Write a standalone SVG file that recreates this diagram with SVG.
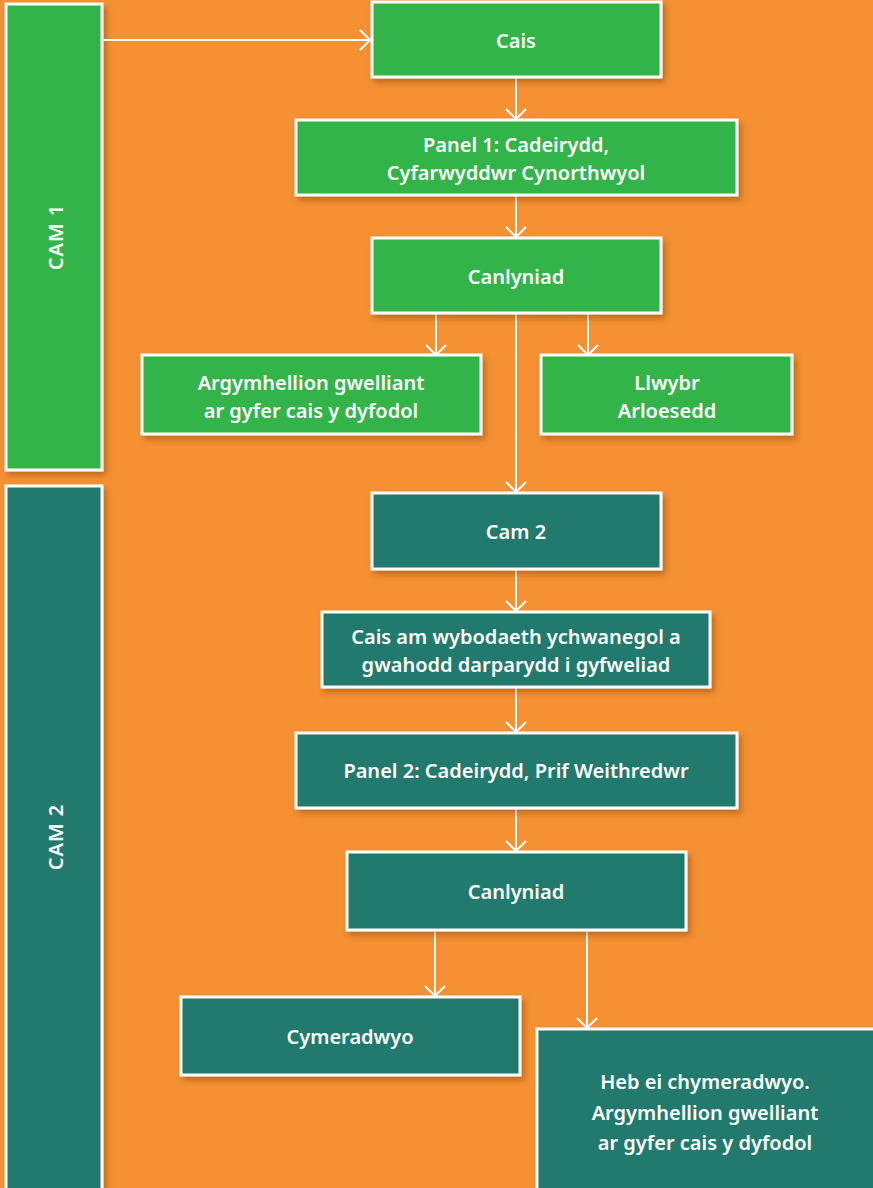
<svg xmlns="http://www.w3.org/2000/svg" width="873" height="1188" viewBox="0 0 873 1188">
<defs>
<filter id="sh" x="-10%" y="-10%" width="130%" height="140%">
<feDropShadow dx="3" dy="4" stdDeviation="3" flood-color="#7a3a00" flood-opacity="0.45"/>
</filter>
<marker id="ah" markerWidth="24" markerHeight="24" refX="12" refY="12" orient="auto" markerUnits="userSpaceOnUse">
<path d="M2,2 L12,12 L2,22" fill="none" stroke="#fff" stroke-width="2"/>
</marker>
</defs>
<style>
.g{fill:#33B44A;stroke:#fff;stroke-width:3;filter:url(#sh)}
.t{fill:#20796D;stroke:#fff;stroke-width:3;filter:url(#sh)}
text{font-family:"Noto Sans","Open Sans",sans-serif;font-weight:600;font-size:20px;fill:#fff;text-anchor:middle}
.c{fill:none;stroke:#fff;stroke-width:2;marker-end:url(#ah)}
</style>
<rect width="873" height="1188" fill="#F59133"/>
<g id="cam1"><rect class="g" x="6" y="4" width="96" height="466"/><text transform="translate(63,237) rotate(-90)" style="letter-spacing:1px">CAM 1</text></g>
<g id="cam2"><rect class="t" x="6" y="486" width="96" height="720"/><text transform="translate(63,837) rotate(-90)" style="letter-spacing:1px">CAM 2</text></g>
<g id="connectors">
<line class="c" x1="102" y1="40" x2="370" y2="40"/>
<line class="c" x1="516" y1="77" x2="516" y2="119"/>
<line class="c" x1="516" y1="195" x2="516" y2="237"/>
<line class="c" x1="436" y1="313" x2="436" y2="355"/>
<line class="c" x1="588" y1="313" x2="588" y2="355"/>
<line class="c" x1="516" y1="313" x2="516" y2="492"/>
<line class="c" x1="516" y1="569" x2="516" y2="611"/>
<line class="c" x1="516" y1="687" x2="516" y2="732"/>
<line class="c" x1="516" y1="808" x2="516" y2="851"/>
<line class="c" x1="435" y1="930" x2="435" y2="996"/>
<line class="c" x1="587" y1="930" x2="587" y2="1028"/>
</g>
<g id="cais"><rect class="g" x="372" y="2" width="289" height="75"/><text x="516" y="48">Cais</text></g>
<g id="panel1"><rect class="g" x="296" y="120" width="441" height="75"/><text x="516" y="152">Panel 1: Cadeirydd,</text><text x="516" y="180">Cyfarwyddwr Cynorthwyol</text></g>
<g id="canlyniad1"><rect class="g" x="372" y="238" width="289" height="75"/><text x="516" y="284">Canlyniad</text></g>
<g id="argymhellion1"><rect class="g" x="142" y="355" width="339" height="79"/><text x="311" y="390">Argymhellion gwelliant</text><text x="311" y="418">ar gyfer cais y dyfodol</text></g>
<g id="llwybr"><rect class="g" x="541" y="355" width="251" height="79"/><text x="667" y="390">Llwybr</text><text x="667" y="418">Arloesedd</text></g>
<g id="cam2node"><rect class="t" x="372" y="493" width="289" height="76"/><text x="516" y="539">Cam 2</text></g>
<g id="caisam"><rect class="t" x="322" y="612" width="388" height="75"/><text x="516" y="644">Cais am wybodaeth ychwanegol a</text><text x="516" y="672">gwahodd darparydd i gyfweliad</text></g>
<g id="panel2"><rect class="t" x="296" y="733" width="441" height="75"/><text x="516" y="778">Panel 2: Cadeirydd, Prif Weithredwr</text></g>
<g id="canlyniad2"><rect class="t" x="347" y="852" width="339" height="78"/><text x="516" y="899">Canlyniad</text></g>
<g id="cymeradwyo"><rect class="t" x="181" y="997" width="339" height="78"/><text x="350" y="1044">Cymeradwyo</text></g>
<g id="heb"><rect class="t" x="537" y="1029" width="350" height="180"/><text x="705" y="1089">Heb ei chymeradwyo.</text><text x="705" y="1120">Argymhellion gwelliant</text><text x="705" y="1150">ar gyfer cais y dyfodol</text></g>
</svg>
